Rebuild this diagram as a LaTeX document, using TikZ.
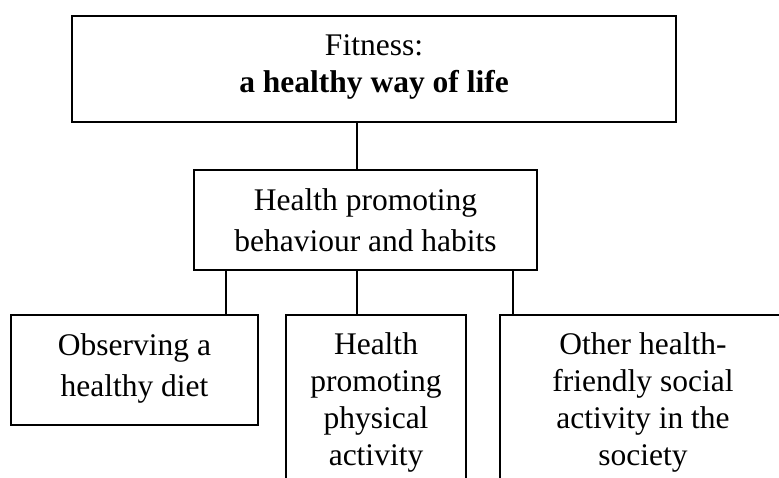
\documentclass[tikz,border=0pt]{standalone}
\usepackage{fontspec}
\setmainfont{Liberation Serif}
\begin{document}
\begin{tikzpicture}[x=1pt,y=-1pt,
  box/.style={draw, line width=1.4pt, inner sep=0pt},
  lbl/.style={font=\fontsize{31.5}{36.7}\selectfont, align=center, anchor=base, inner sep=0pt},
  lblwide/.style={lbl, font=\fontsize{31.5}{41.7}\selectfont},
  link/.style={line width=1.4pt}]
\useasboundingbox (0,0) rectangle (779,477);
\clip (0,0) rectangle (779,477);
% boxes
\node[box, minimum width=604pt, minimum height=106pt] (top) at (374,69) {};
\node[box, minimum width=343pt, minimum height=100pt] (mid) at (365.5,220) {};
\node[box, minimum width=247pt, minimum height=110pt] (diet) at (134.5,370) {};
\node[box, minimum width=180pt, minimum height=190pt] (phys) at (376,410) {};
\node[box, minimum width=286pt, minimum height=190pt] (soc) at (643,410) {};
% texts (anchored at the baseline of the last line)
\node[lbl] (ttop) at (374,92) {Fitness:\\\textbf{a healthy way of life}};
\node[lblwide] (tmid) at (365.5,251.7) {Health promoting\\behaviour and habits};
\node[lblwide] (tdiet) at (134.5,396.7) {Observing a\\healthy diet};
\node[lbl] (tphys) at (376,465) {Health\\promoting\\physical\\activity};
\node[lbl] (tsoc) at (643,465) {Other health-\\friendly social\\activity in the\\society};
% connector positions
\coordinate (c0) at (357,0);
\coordinate (c1) at (226,0);
\coordinate (c2) at (357,0);
\coordinate (c3) at (513,0);
\draw[link] (top.south -| c0) -- (mid.north -| c0);
\draw[link] (mid.south -| c1) -- (diet.north -| c1);
\draw[link] (mid.south -| c2) -- (phys.north -| c2);
\draw[link] (mid.south -| c3) -- (soc.north -| c3);
\end{tikzpicture}
\end{document}
